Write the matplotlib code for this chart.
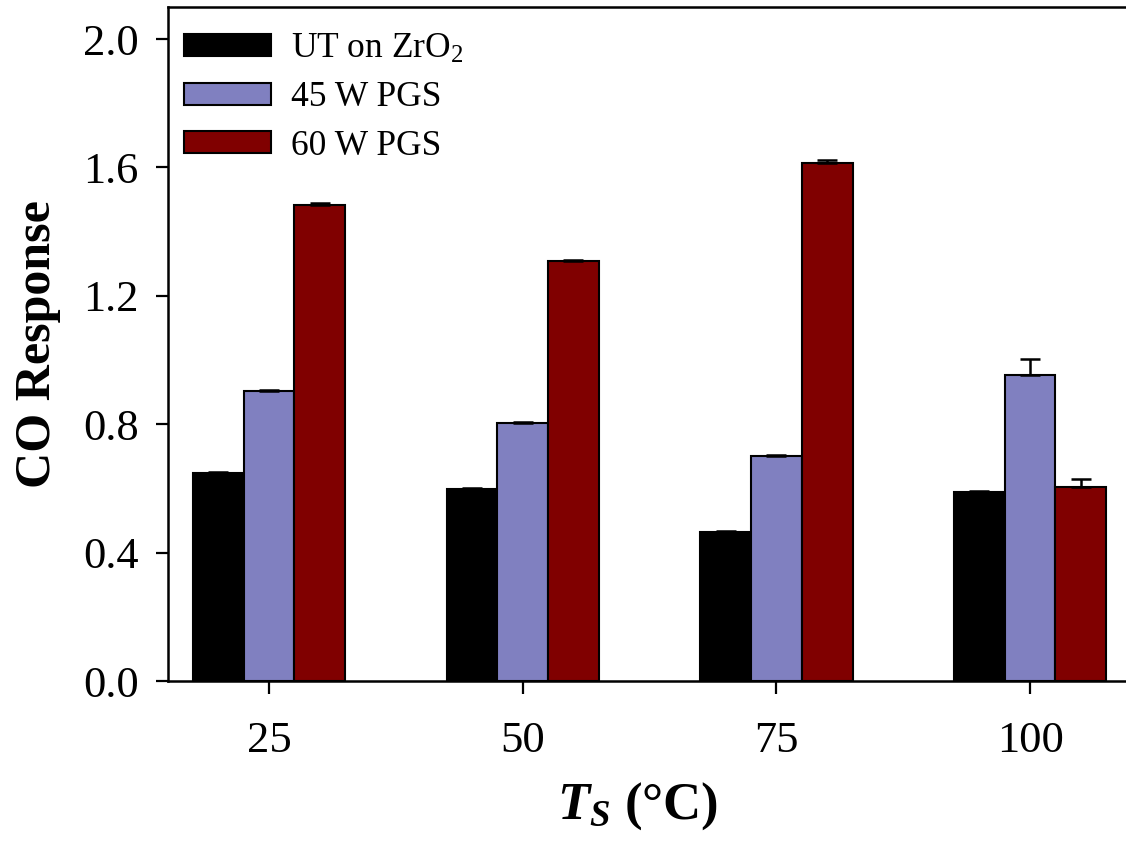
import numpy as np
import matplotlib
matplotlib.use("Agg")
import matplotlib.pyplot as plt

plt.rcParams['font.family'] = ['Liberation Serif', 'DejaVu Serif']
plt.rcParams['mathtext.fontset'] = 'custom'
plt.rcParams['mathtext.rm'] = 'Liberation Serif'
plt.rcParams['mathtext.it'] = 'Liberation Serif:italic:bold'
plt.rcParams['mathtext.bf'] = 'Liberation Serif:bold'

temperatures = ['25', '50', '75', '100']
series_names = ['UT on ZrO$_\\mathrm{2}$', '45 W PGS', '60 W PGS']
ut_zro2 = [0.648, 0.598, 0.464, 0.590]
pgs_45w = [0.903, 0.804, 0.700, 0.955]
pgs_60w = [1.484, 1.308, 1.615, 0.604]
ut_zro2_err = [0.003, 0.003, 0.002, 0.003]
pgs_45w_err = [0.003, 0.003, 0.003, 0.048]
pgs_60w_err = [0.006, 0.004, 0.009, 0.025]
y_ticks = [0.0, 0.4, 0.8, 1.2, 1.6, 2.0]

colors = ['#000000', '#8080C0', '#800000']
values = [ut_zro2, pgs_45w, pgs_60w]
errors = [ut_zro2_err, pgs_45w_err, pgs_60w_err]

fig = plt.figure(figsize=(11.26, 8.46), dpi=100)
ax = fig.add_axes([0.1492, 0.195, 0.8508, 0.7967])

x = np.arange(len(temperatures))
width = 0.2
for i, (vals, errs, col, name) in enumerate(zip(values, errors, colors, series_names)):
    errs = np.asarray(errs)
    ax.bar(x + (i - 1) * width, vals, width, color=col, edgecolor='black',
           linewidth=1.5, label=name, zorder=2,
           yerr=[np.zeros_like(errs), errs],
           error_kw=dict(ecolor='black', elinewidth=1.8, capsize=7.5,
                         capthick=1.8, zorder=3))

ax.set_xlim(-0.398, 3.378)
ax.set_ylim(0, 2.1)
ax.set_xticks(x)
ax.set_xticklabels(temperatures)
ax.set_yticks(y_ticks)
ax.set_yticklabels([f'{t:.1f}' for t in y_ticks])
ax.tick_params(axis='both', direction='out', length=9, width=1.6,
               labelsize=32, pad=8)
ax.tick_params(axis='x', pad=20)
ax.tick_params(axis='y', pad=12)

for side in ['left', 'bottom', 'top']:
    ax.spines[side].set_linewidth(1.8)
ax.spines['right'].set_visible(False)

ax.set_ylabel('CO Response', fontsize=36, fontweight='bold', labelpad=16)
ax.set_xlabel(r'$T_{S}$ (°C)', fontsize=38, fontweight='bold')
ax.xaxis.set_label_coords(0.49, -0.148)

leg = ax.legend(loc='upper left', bbox_to_anchor=(0.0, 0.986), frameon=False,
                fontsize=25.5, handlelength=2.45, handleheight=0.58,
                handletextpad=0.58, labelspacing=0.44, borderaxespad=0.05)

fig.savefig('out.png', dpi=100)
